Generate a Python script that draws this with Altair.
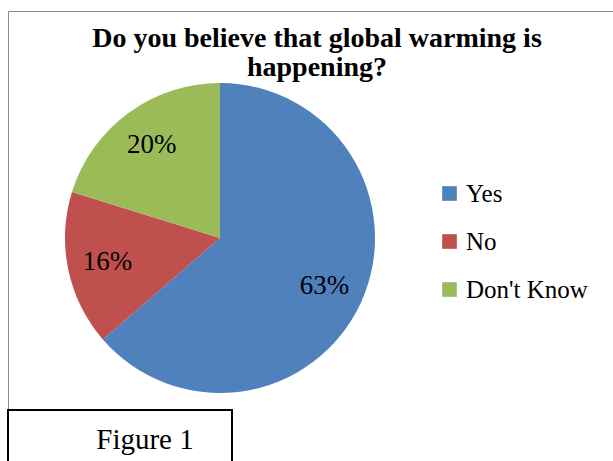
import altair as alt
import pandas as pd

# Survey answers and their shares (percent)
answers = ["Yes", "No", "Don't Know"]
shares = [63, 16, 20]
slice_colors = ["#4F81BD", "#C0504D", "#9BBB59"]

title_lines = ["Do you believe that global warming is", "happening?"]
caption = "Figure 1"

W, H = 613, 461
CX, CY, R = 220, 238, 155
SERIF = "Liberation Serif"

pie_df = pd.DataFrame({"answer": answers, "share": shares, "rank": list(range(len(answers)))})
pie_df["label"] = [f"{v}%" for v in shares]

one = pd.DataFrame({"k": [0]})

frame = alt.Chart(one).mark_rect(fill="white", stroke="#8c8c8c", strokeWidth=1).encode(
    x=alt.value(8.5), x2=alt.value(W + 10), y=alt.value(11.5), y2=alt.value(H + 10)
)

base = alt.Chart(pie_df).encode(
    theta=alt.Theta("share:Q", stack=True),
    order=alt.Order("rank:Q", sort="ascending"),
)

slices = base.mark_arc(radius=R).encode(
    x=alt.value(CX),
    y=alt.value(CY),
    color=alt.Color(
        "answer:N",
        scale=alt.Scale(domain=answers, range=slice_colors),
        sort=answers,
        legend=alt.Legend(
            title=None,
            orient="none",
            legendX=437,
            legendY=181,
            symbolType="square",
            symbolSize=215,
            symbolStrokeWidth=0,
            symbolOpacity=1,
            labelFont=SERIF,
            labelFontSize=25,
            labelColor="#000000",
            labelLimit=400,
            labelOffset=4,
            rowPadding=22,
            padding=0,
        ),
    ),
)

pct_labels = base.mark_text(
    radius=115, font=SERIF, fontSize=27, color="#000000", baseline="middle", align="center"
).encode(x=alt.value(CX), y=alt.value(CY), text="label:N")

heading = alt.Chart(one).mark_text(
    text=title_lines,
    font=SERIF,
    fontSize=28,
    fontWeight="bold",
    color="#000000",
    align="center",
    baseline="alphabetic",
    lineHeight=29,
).encode(x=alt.value(317), y=alt.value(47))

fig_box = alt.Chart(one).mark_rect(fill="white", stroke="#000000", strokeWidth=2).encode(
    x=alt.value(8), x2=alt.value(232), y=alt.value(410), y2=alt.value(H + 10)
)

fig_text = alt.Chart(one).mark_text(
    text=caption, font=SERIF, fontSize=29, color="#000000", align="center", baseline="alphabetic"
).encode(x=alt.value(145), y=alt.value(449))

chart = (
    alt.layer(frame, slices, pct_labels, heading, fig_box, fig_text)
    .properties(width=W, height=H, autosize=alt.AutoSizeParams(type="none"), padding=0, background="white")
    .configure_view(stroke=None)
)

chart.save("out.html", embed_options={"renderer": "svg", "actions": False})
